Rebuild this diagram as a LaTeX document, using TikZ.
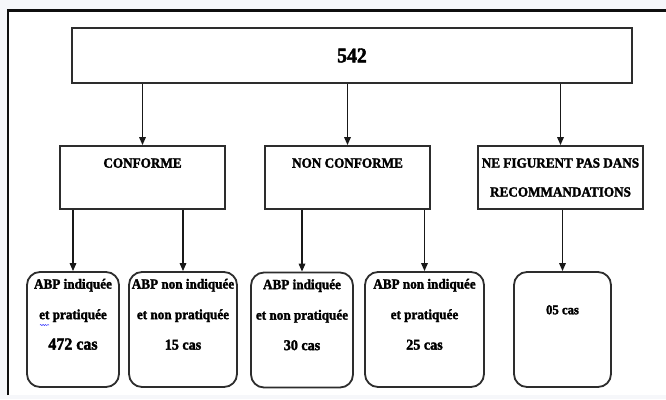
\documentclass[tikz,border=0pt]{standalone}
\usepackage{fontspec}
\setmainfont[BoldFeatures={FakeBold=2,FakeStretch=0.94}]{Liberation Serif}
\usetikzlibrary{arrows.meta,positioning,decorations.pathmorphing}
\definecolor{frameln}{RGB}{15,15,15}
\definecolor{boxln}{RGB}{45,45,45}
\definecolor{pagebg}{RGB}{246,247,250}
\tikzset{
  arr/.style={-{Triangle[length=8pt,width=6.5pt]}, line width=1.6pt, black!90},
  sqbox/.style={draw=boxln, line width=1.8pt, rectangle, inner sep=0pt, align=center,
    font=\bfseries\fontsize{14}{29}\selectfont},
  casbox/.style={draw=boxln, line width=1.8pt, rounded corners=13pt, inner sep=0pt,
    align=center, minimum height=115pt, font=\bfseries\fontsize{14}{30.5}\selectfont},
}
\newcommand{\bigcas}[2]{{\fontsize{#1}{30.5}\selectfont #2}}

\begin{document}
\begin{tikzpicture}[x=1pt, y=-1pt]
  \useasboundingbox (0,0) rectangle (666,399);
  \fill[pagebg] (0,0) rectangle (666,399);
  \fill[white] (8,10.5) rectangle (666,395);
  \draw[line width=2.4pt, frameln] (8,395) -- (8,10.5) -- (668,10.5);

  % total
  \node[sqbox, minimum width=560pt, minimum height=55pt,
    font=\bfseries\fontsize{21}{22}\selectfont] (total) at (352,55.5) {542};

  % three groups
  \node[sqbox, minimum width=165pt, minimum height=63pt] (conf) at (142.5,177.5)
    {CONFORME\\\mbox{}};
  \node[sqbox, minimum width=165pt, minimum height=63pt] (nonconf) at (347.5,177.5)
    {NON CONFORME\\\mbox{}};
  \node[sqbox, minimum width=165pt, minimum height=63pt] (horsreco) at (560.5,177.5)
    {NE FIGURENT PAS DANS\\RECOMMANDATIONS};

  % cases
  \node[casbox, minimum width=92pt] (confind) at (73,329.5)
    {ABP indiquée\\et pratiquée\\\bigcas{17}{472 cas}\\\mbox{}};
  \node[casbox, minimum width=108pt] (confnonind) at (183,329.5)
    {ABP non indiquée\\et non pratiquée\\\bigcas{15}{15 cas}\\\mbox{}};
  \node[casbox, minimum width=102pt] (nonconfind) at (302,330)
    {ABP indiquée\\et non pratiquée\\\bigcas{15}{30 cas}\\\mbox{}};
  \node[casbox, minimum width=119pt] (nonconfnonind) at (424.5,329.5)
    {ABP non indiquée\\et pratiquée\\\bigcas{15}{25 cas}\\\mbox{}};
  \node[casbox, minimum width=97pt] (horscas) at (562.5,329.5)
    {\mbox{}\\\bigcas{13.5}{05 cas}\\\mbox{}\\\mbox{}};

  \draw[arr] (total.south -| conf.north) -- (conf.north);
  \draw[arr] (total.south -| nonconf.north) -- (nonconf.north);
  \draw[arr] (total.south -| horsreco.north) -- (horsreco.north);

  \draw[arr] (conf.south -| confind.north) -- (confind.north);
  \draw[arr] (conf.south -| confnonind.north) -- (confnonind.north);
  \draw[arr] (nonconf.south -| nonconfind.north) -- (nonconfind.north);
  \draw[arr] (nonconf.south -| nonconfnonind.north) -- (nonconfnonind.north);
  \draw[arr] (horsreco.south -| horscas.north) -- (horscas.north);

  % spell-check mark under "et"
  \draw[blue!80, line width=0.5pt, decorate,
    decoration={snake, amplitude=0.6pt, segment length=2.4pt}] (40,325) -- (49,325);
\end{tikzpicture}
\end{document}
